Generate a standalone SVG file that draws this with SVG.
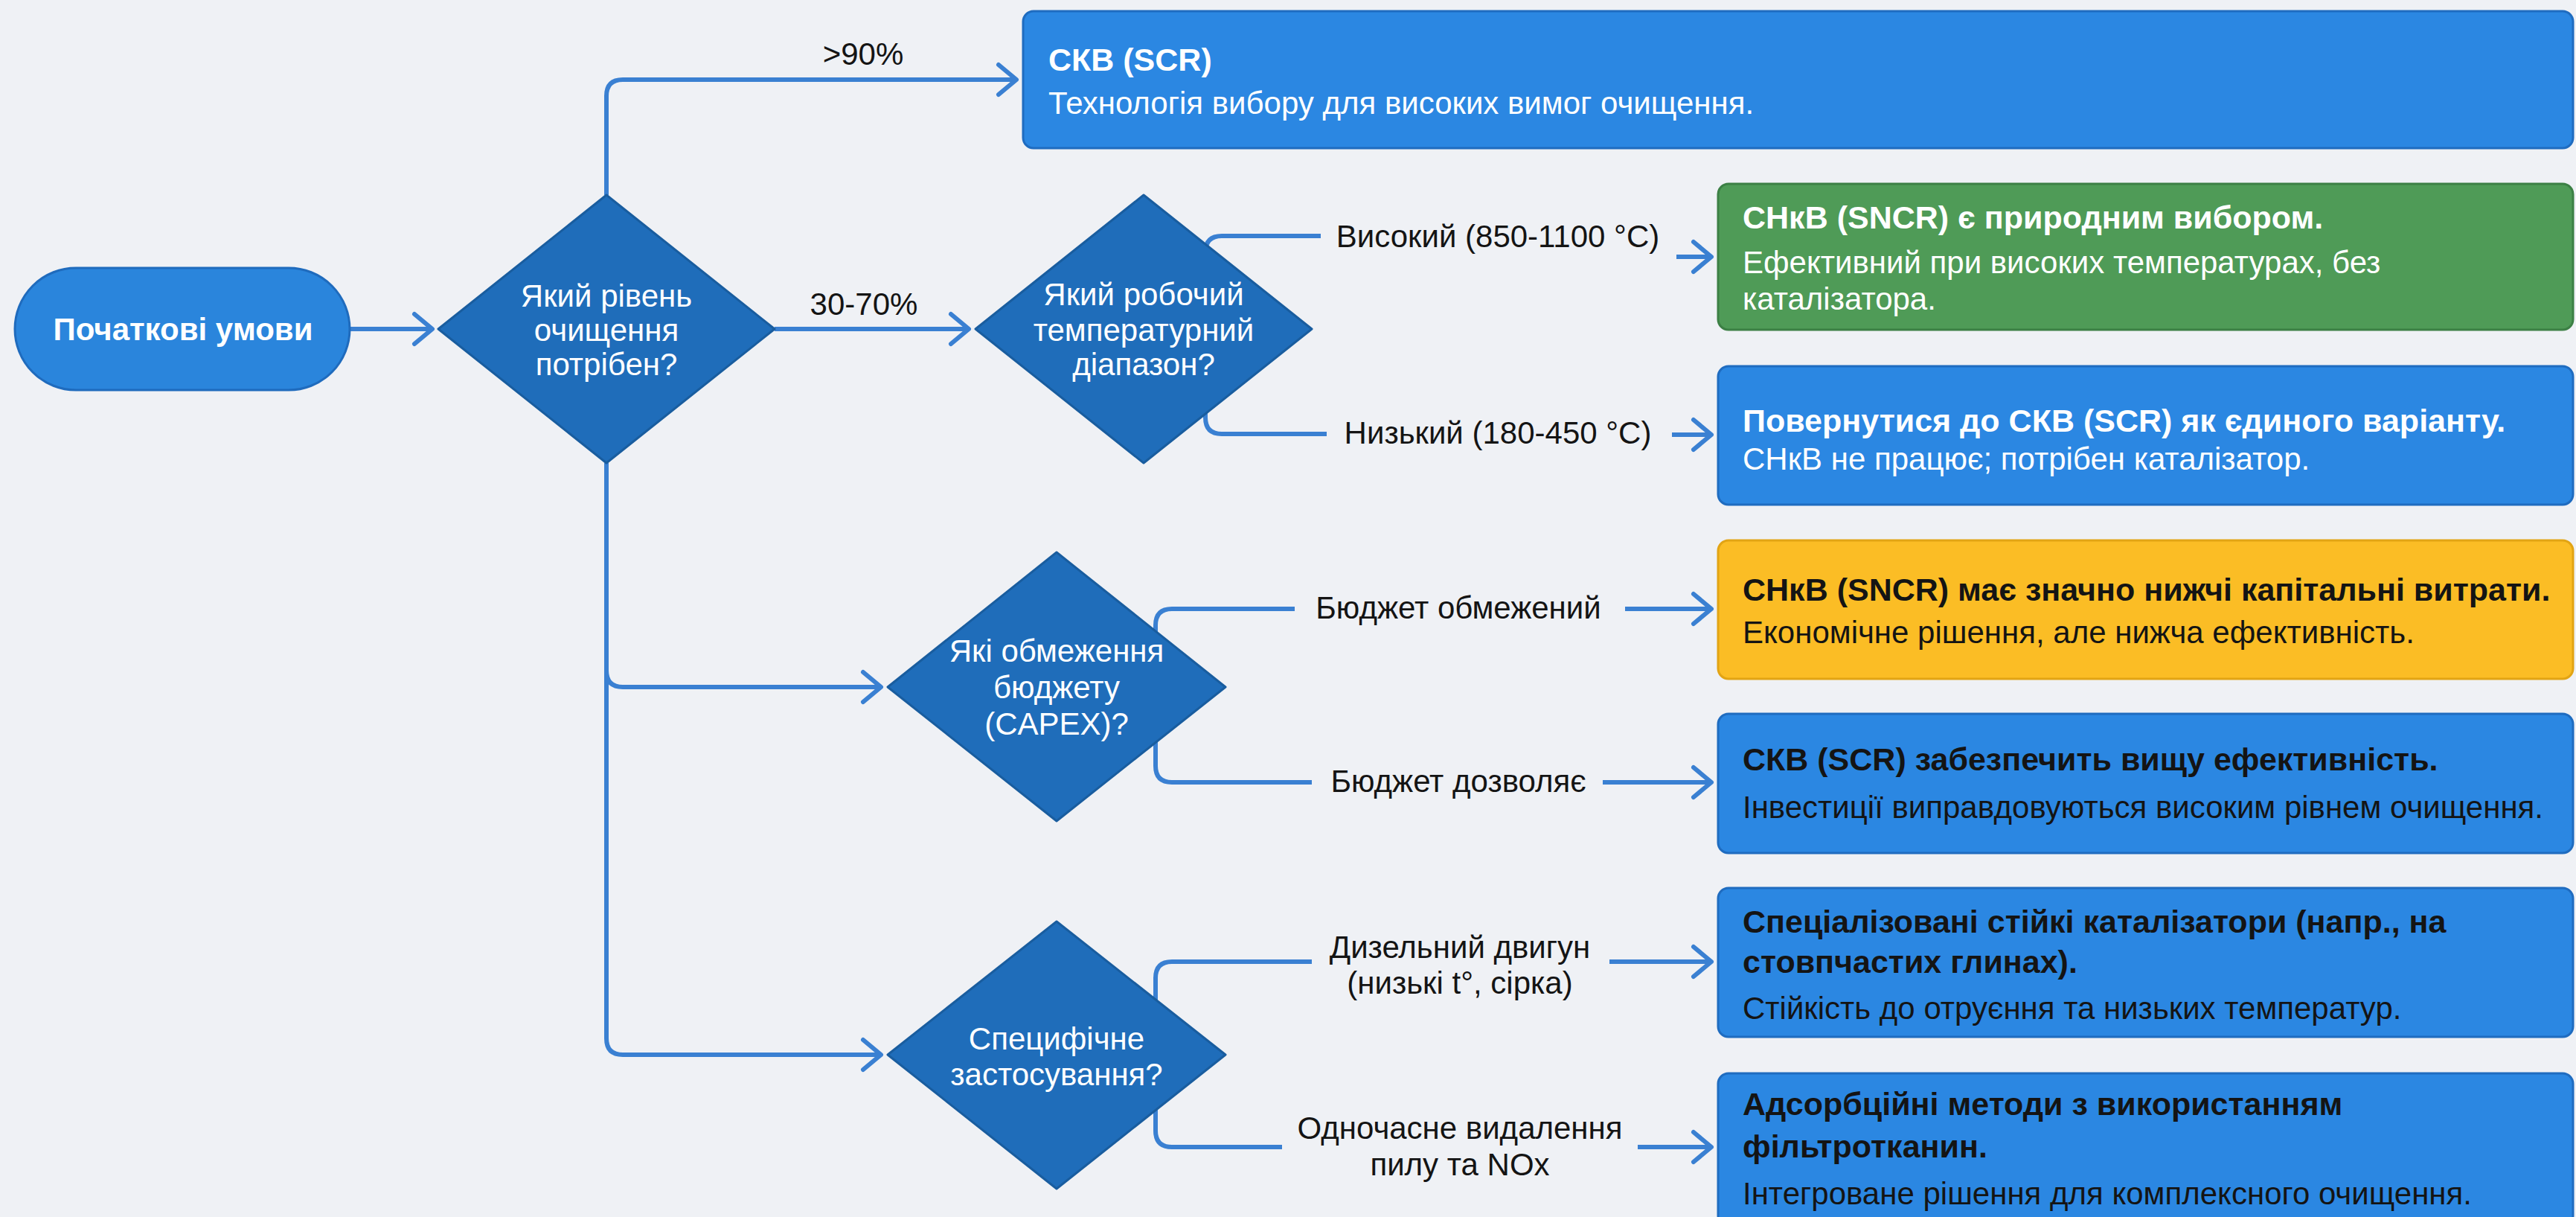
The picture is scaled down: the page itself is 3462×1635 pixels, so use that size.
<svg xmlns="http://www.w3.org/2000/svg" width="3462" height="1635" viewBox="0 0 3462 1635">
<defs>
<marker id="arr" markerUnits="userSpaceOnUse" markerWidth="44" markerHeight="54" viewBox="-32 -27 44 54" refX="0" refY="0" orient="auto">
<path d="M-24,-20 L0,0 L-24,20" fill="none" stroke="#3a80d2" stroke-width="6" stroke-linecap="round" stroke-linejoin="round"/>
</marker>
<style>
.bg{fill:#eff1f5}
.ln{fill:none;stroke:#3a80d2;stroke-width:6;stroke-linecap:butt}
.ar{marker-end:url(#arr)}
.dia{fill:#1f6dba;stroke:#195d9f;stroke-width:3;stroke-linejoin:round}
.pill{fill:#2a85dc;stroke:#1f6bbd;stroke-width:3}
.blue{fill:#2b87e2;stroke:#1f6cc0;stroke-width:3}
.green{fill:#4f9b57;stroke:#3c8045;stroke-width:3}
.yellow{fill:#fbbd25;stroke:#e2a414;stroke-width:3}
text{font-family:"Liberation Sans",Arial,sans-serif;font-size:42px}
.w{fill:#ffffff}
.d{fill:#141414}
.c{text-anchor:middle}
.b{font-weight:bold}
.t{font-size:43px}
.s{font-size:42px}
</style>
</defs>
<rect class="bg" x="0" y="0" width="3462" height="1635"/>

<g id="connectors">
<g id="c-start-q1"><path class="ln ar" d="M470,442 H581"/></g>
<g id="c-q1-scr"><path class="ln ar" d="M815,262 V129 Q815,107 837,107 H1366"/>
<text class="d c" x="1160" y="87">&gt;90%</text></g>
<g id="c-q1-q2"><path class="ln ar" d="M1041,442 H1302"/>
<text class="d c" x="1161" y="423">30-70%</text></g>
<g id="c-q1-q3"><path class="ln ar" d="M815,622 V901 Q815,923 837,923 H1184"/></g>
<g id="c-q1-q4"><path class="ln ar" d="M815,622 V1395 Q815,1417 837,1417 H1184"/></g>
<g id="c-q2-sncr"><path class="ln" d="M1620,442 V339 Q1620,317 1642,317 H1775"/>
<path class="ln ar" d="M2253,345 H2300"/>
<text class="d c" x="2013" y="332">Високий (850-1100 °C)</text></g>
<g id="c-q2-fallback"><path class="ln" d="M1620,442 V561 Q1620,583 1642,583 H1783"/>
<path class="ln ar" d="M2247,584 H2300"/>
<text class="d c" x="2013" y="596">Низький (180-450 °C)</text></g>
<g id="c-q3-sncr"><path class="ln" d="M1553,923 V840 Q1553,818 1575,818 H1740"/>
<path class="ln ar" d="M2184,818 H2300"/>
<text class="d c" x="1960" y="831">Бюджет обмежений</text></g>
<g id="c-q3-scr"><path class="ln" d="M1553,923 V1029 Q1553,1051 1575,1051 H1763"/>
<path class="ln ar" d="M2154,1051 H2300"/>
<text class="d c" x="1960" y="1064">Бюджет дозволяє</text></g>
<g id="c-q4-diesel"><path class="ln" d="M1553,1417 V1314 Q1553,1292 1575,1292 H1763"/>
<path class="ln ar" d="M2163,1292 H2300"/>
<text class="d c" x="1962" y="1287">Дизельний двигун</text>
<text class="d c" x="1962" y="1335">(низькі t°, сірка)</text></g>
<g id="c-q4-adsorb"><path class="ln" d="M1553,1417 V1519 Q1553,1541 1575,1541 H1723"/>
<path class="ln ar" d="M2201,1541 H2300"/>
<text class="d c" x="1962" y="1530">Одночасне видалення</text>
<text class="d c" x="1962" y="1579">пилу та NOx</text></g>
</g>

<g id="start">
<rect class="pill" x="20" y="360" width="450" height="164" rx="82"/>
<text class="w c b" x="246" y="457">Початкові умови</text>
</g>

<g id="q1">
<polygon class="dia" points="815,262 1041,442 815,622 589,442"/>
<text class="w c" x="815" y="412">Який рівень</text>
<text class="w c" x="815" y="458">очищення</text>
<text class="w c" x="815" y="504">потрібен?</text>
</g>

<g id="q2">
<polygon class="dia" points="1537,262 1763,442 1537,622 1311,442"/>
<text class="w c" x="1537" y="410">Який робочий</text>
<text class="w c" x="1537" y="458">температурний</text>
<text class="w c" x="1537" y="504">діапазон?</text>
</g>

<g id="q3">
<polygon class="dia" points="1420,742 1647,923 1420,1103 1193,923"/>
<text class="w c" x="1420" y="889">Які обмеження</text>
<text class="w c" x="1420" y="938">бюджету</text>
<text class="w c" x="1420" y="987">(CAPEX)?</text>
</g>

<g id="q4">
<polygon class="dia" points="1420,1238 1647,1417 1420,1597 1193,1417"/>
<text class="w c" x="1420" y="1410">Специфічне</text>
<text class="w c" x="1420" y="1458">застосування?</text>
</g>

<g id="scr">
<rect class="blue" x="1375" y="15" width="2083" height="184" rx="14"/>
<text class="w b t" x="1409" y="95">СКВ (SCR)</text>
<text class="w s" x="1409" y="153">Технологія вибору для високих вимог очищення.</text>
</g>

<g id="sncr-high">
<rect class="green" x="2309" y="247" width="1149" height="196" rx="14"/>
<text class="w b t" x="2342" y="307">СНкВ (SNCR) є природним вибором.</text>
<text class="w s" x="2342" y="367">Ефективний при високих температурах, без</text>
<text class="w s" x="2342" y="416">каталізатора.</text>
</g>

<g id="scr-fallback">
<rect class="blue" x="2309" y="492" width="1149" height="186" rx="14"/>
<text class="w b t" x="2342" y="580">Повернутися до СКВ (SCR) як єдиного варіанту.</text>
<text class="w s" x="2342" y="631">СНкВ не працює; потрібен каталізатор.</text>
</g>

<g id="sncr-budget">
<rect class="yellow" x="2309" y="726" width="1149" height="186" rx="14"/>
<text class="d b t" x="2342" y="807">СНкВ (SNCR) має значно нижчі капітальні витрати.</text>
<text class="d s" x="2342" y="864">Економічне рішення, але нижча ефективність.</text>
</g>

<g id="scr-budget">
<rect class="blue" x="2309" y="959" width="1149" height="187" rx="14"/>
<text class="d b t" x="2342" y="1035">СКВ (SCR) забезпечить вищу ефективність.</text>
<text class="d s" x="2342" y="1099">Інвестиції виправдовуються високим рівнем очищення.</text>
</g>

<g id="special-catalysts">
<rect class="blue" x="2309" y="1193" width="1149" height="200" rx="14"/>
<text class="d b t" x="2342" y="1253">Спеціалізовані стійкі каталізатори (напр., на</text>
<text class="d b t" x="2342" y="1307">стовпчастих глинах).</text>
<text class="d s" x="2342" y="1369">Стійкість до отруєння та низьких температур.</text>
</g>

<g id="adsorption">
<rect class="blue" x="2309" y="1442" width="1149" height="205" rx="14"/>
<text class="d b t" x="2342" y="1498">Адсорбційні методи з використанням</text>
<text class="d b t" x="2342" y="1555">фільтротканин.</text>
<text class="d s" x="2342" y="1618">Інтегроване рішення для комплексного очищення.</text>
</g>
</svg>
